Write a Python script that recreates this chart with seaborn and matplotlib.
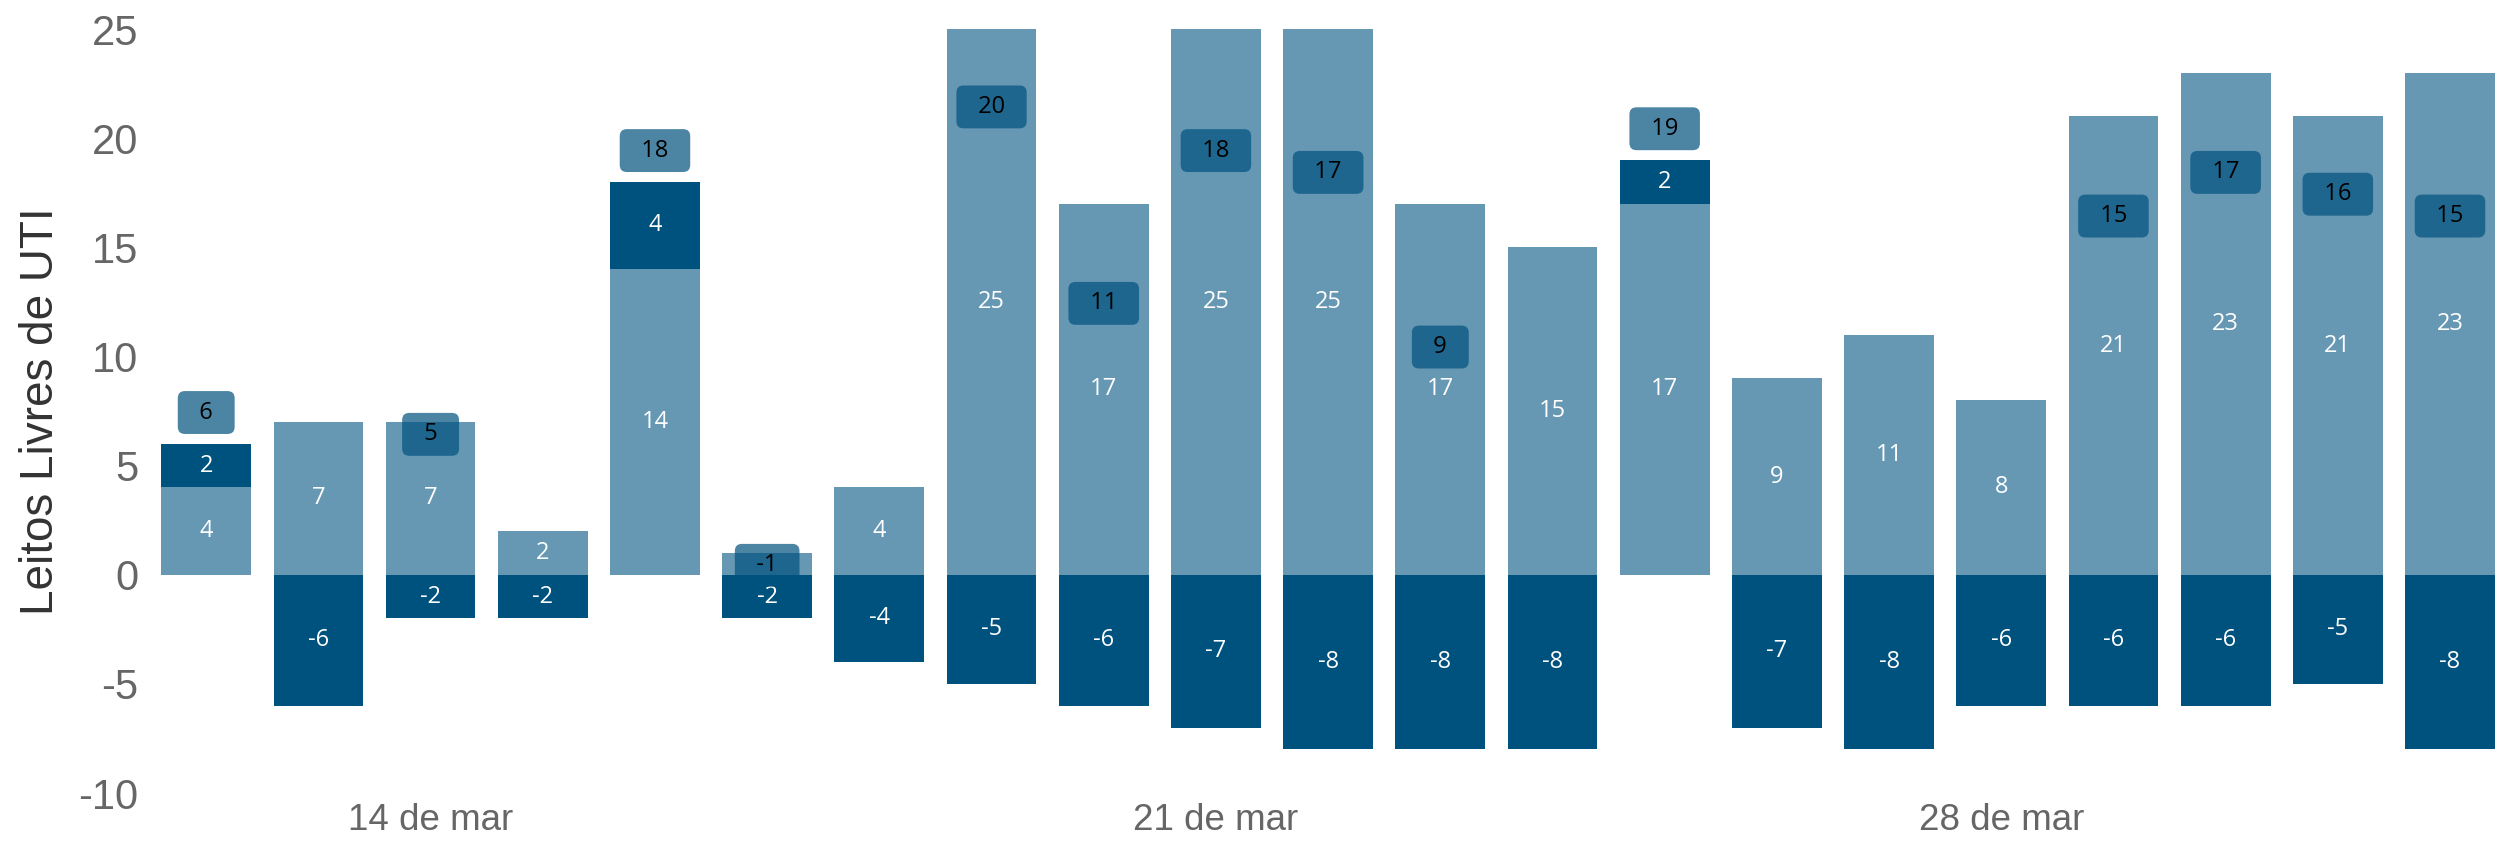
import matplotlib.pyplot as plt
import pandas as pd
import seaborn as sns

# dias de 12/03 a 01/04
dias = ['12/03', '13/03', '14/03', '15/03', '16/03', '17/03', '18/03',
        '19/03', '20/03', '21/03', '22/03', '23/03', '24/03', '25/03',
        '26/03', '27/03', '28/03', '29/03', '30/03', '31/03', '01/04']
livres = [4, 7, 7, 2, 14, 1, 4, 25, 17, 25, 25, 17, 15, 17, 9, 11, 8, 21, 23, 21, 23]
variacao = [2, -6, -2, -2, 4, -2, -4, -5, -6, -7, -8, -8, -8, 2, -7, -8, -6, -6, -6, -5, -8]
# quais saldos aparecem com caixinha
mostrar_saldo = [True, False, True, False, True, True, False, True, True, True, True,
                 True, False, True, False, False, False, True, True, True, True]
dias_marcados = ['14/03', '21/03', '28/03']
rotulos_marcados = ['14 de mar', '21 de mar', '28 de mar']

ESCURO = '#00527e'
CLARO = '#6697b3'
CAIXA = (0, 82 / 255, 126 / 255, 0.7)

df = pd.DataFrame({'dia': dias, 'livres': livres, 'variacao': variacao})
df['saldo'] = df['livres'] + df['variacao']
# parte escura: empilhada em cima quando positiva, abaixo de zero quando negativa
df['topo_escuro'] = [l + v if v > 0 else v for l, v in zip(livres, variacao)]

sns.set_theme(style='white')
plt.rcParams['font.family'] = ['Liberation Sans', 'DejaVu Sans']
plt.rcParams['axes.unicode_minus'] = False

fig = plt.figure(figsize=(25.02, 8.46), dpi=100)
ax = fig.add_axes([0.06, 0.0626, 0.9394, 0.9031])

sns.barplot(data=df, x='dia', y='topo_escuro', color=ESCURO, saturation=1,
            width=0.8, errorbar=None, linewidth=0, edgecolor='none', ax=ax)
sns.barplot(data=df, x='dia', y='livres', color=CLARO, saturation=1,
            width=0.8, errorbar=None, linewidth=0, edgecolor='none', ax=ax)

fonte_rot = ['Open Sans', 'DejaVu Sans']
for i, r in df.iterrows():
    if abs(r['livres']) >= 2:
        ax.text(i, r['livres'] / 2, str(r['livres']), ha='center', va='center',
                color='white', fontsize=17, family=fonte_rot)
    if r['variacao'] > 0:
        y = r['livres'] + r['variacao'] / 2
    else:
        y = r['variacao'] / 2
    ax.text(i, y, str(r['variacao']), ha='center', va='center',
            color='white', fontsize=17, family=fonte_rot)

for i, r in df.iterrows():
    if not mostrar_saldo[i]:
        continue
    ax.annotate(f"  {r['saldo']}  ", xy=(i, r['saldo']), xytext=(0, 22.5),
                textcoords='offset points', ha='center', va='center',
                fontsize=17, family=fonte_rot, color='black',
                bbox=dict(boxstyle='round,pad=0.4,rounding_size=0.3',
                          fc=CAIXA, ec='none'))

ax.set_xlim(-0.5, 20.45)
ax.set_ylim(-10, 25)
ax.set_yticks(range(-10, 26, 5))
ax.set_xticks([dias.index(d) for d in dias_marcados])
ax.set_xticklabels(rotulos_marcados)
ax.tick_params(axis='y', length=0, labelsize=30, labelcolor='#666666', pad=8.5)
ax.tick_params(axis='x', length=0, labelsize=26.5, labelcolor='#666666', pad=7.5)
ax.set_xlabel('')
ax.set_ylabel('Leitos Livres de UTI', fontsize=33, color='#333333')
ax.yaxis.set_label_coords(-0.037, 0.5)
sns.despine(left=True, bottom=True)

plt.savefig('out.png', dpi=100)
